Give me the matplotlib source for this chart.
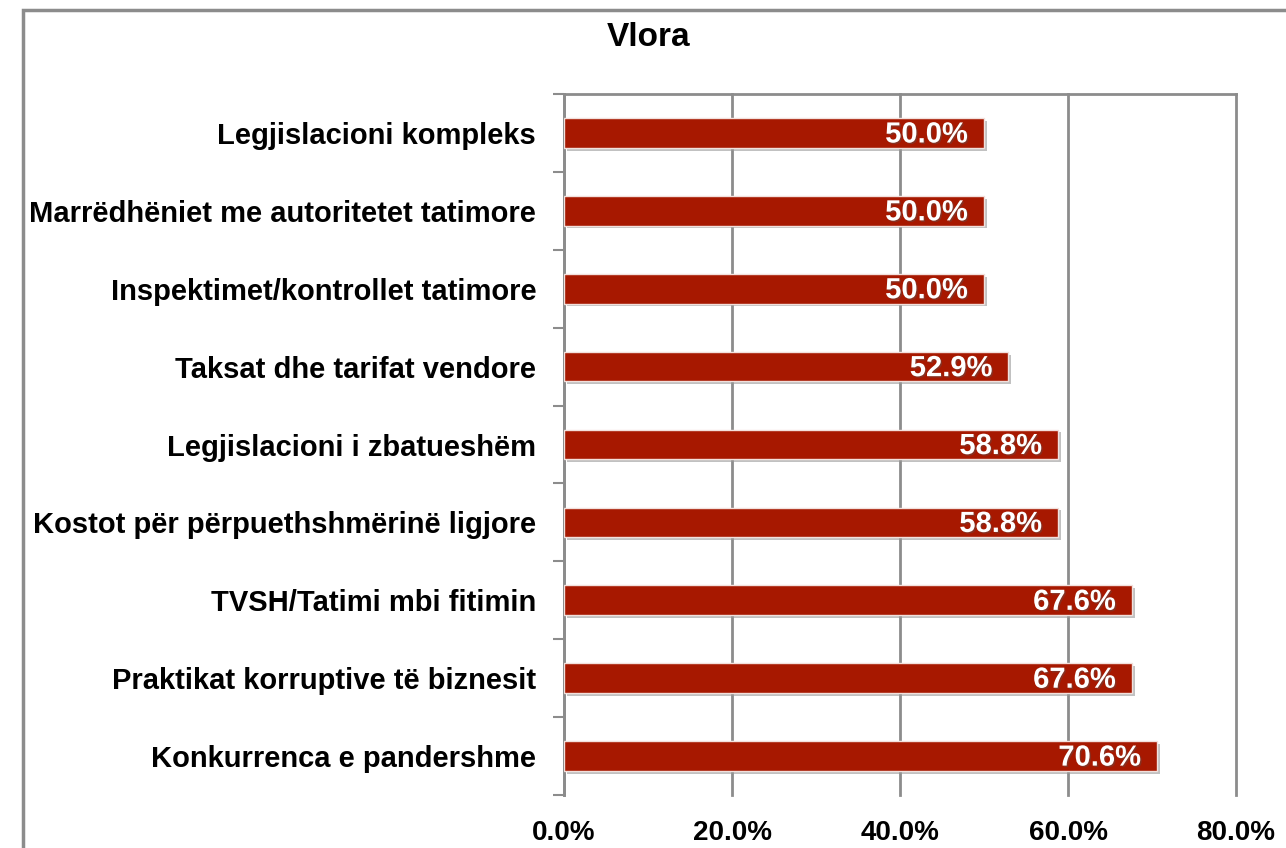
import matplotlib
matplotlib.use("Agg")
import matplotlib.pyplot as plt
import matplotlib.patheffects as pe
from matplotlib.patches import Rectangle
import numpy as np

categories = [
    "Legjislacioni kompleks",
    "Marrëdhëniet me autoritetet tatimore",
    "Inspektimet/kontrollet tatimore",
    "Taksat dhe tarifat vendore",
    "Legjislacioni i zbatueshëm",
    "Kostot për përpuethshmërinë ligjore",
    "TVSH/Tatimi mbi fitimin",
    "Praktikat korruptive të biznesit",
    "Konkurrenca e pandershme",
]
values = [50.0, 50.0, 50.0, 52.9, 58.8, 58.8, 67.6, 67.6, 70.6]
xticks = [0, 20, 40, 60, 80]

plt.rcParams['font.family'] = ['Liberation Sans', 'DejaVu Sans']

fig = plt.figure(figsize=(12.86, 8.48), dpi=100)
W, H = 1286, 848
ax = fig.add_axes([564 / W, 1 - 795 / H, (1236 - 564) / W, (795 - 94) / H])

# outer chart border
fig.patches.append(Rectangle((23 / W, -0.1), 1.2, 1 - 10 / H + 0.1,
                             transform=fig.transFigure, fill=False,
                             edgecolor="#8c8c8c", linewidth=2.5, zorder=0))

y = np.arange(len(categories))
bars = ax.barh(y, values, height=0.38, color="#a71800", edgecolor="#f2e0dc",
               linewidth=1, zorder=3)
for b in bars:
    b.set_path_effects([pe.SimplePatchShadow(offset=(2, -2), shadow_rgbFace="#999999", alpha=0.6),
                        pe.Normal()])

for yi, v in zip(y, values):
    ax.text(v - 1.9, yi + 0.02, f"{v:.1f}%", ha="right", va="center", color="white",
            fontsize=21, fontweight="bold", zorder=4,
            path_effects=[pe.withSimplePatchShadow(offset=(1, -1), shadow_rgbFace="#555555", alpha=0.4)])

ax.set_xlim(0, 80)
ax.set_ylim(len(categories) - 0.5, -0.5)
ax.set_xticks(xticks)
ax.set_xticklabels([f"{t:.1f}%" for t in xticks], fontsize=20, fontweight="bold",
                   family=['Liberation Sans Narrow', 'Liberation Sans'])
ax.tick_params(axis="x", length=0, pad=18)
ax.set_yticks(y)
ax.set_yticklabels(categories, fontsize=21, fontweight="bold")
ax.tick_params(axis="y", which="major", length=0, pad=20)
ax.set_yticks(np.arange(len(categories) + 1) - 0.5, minor=True)
ax.tick_params(axis="y", which="minor", length=8, width=1.5, color="#8c8c8c")

ax.grid(axis="x", color="#8c8c8c", linewidth=2, zorder=1)
for gl in ax.get_xgridlines():
    gl.set_clip_on(False)
ax.set_axisbelow(True)
for s in ["right", "bottom"]:
    ax.spines[s].set_visible(False)
for s in ["left", "top"]:
    ax.spines[s].set_color("#8c8c8c")
    ax.spines[s].set_linewidth(2)

fig.text(649 / W, 1 - 38 / H, "Vlora", ha="center", va="center",
         fontsize=24, fontweight="bold")

fig.savefig("out.png", dpi=100)
